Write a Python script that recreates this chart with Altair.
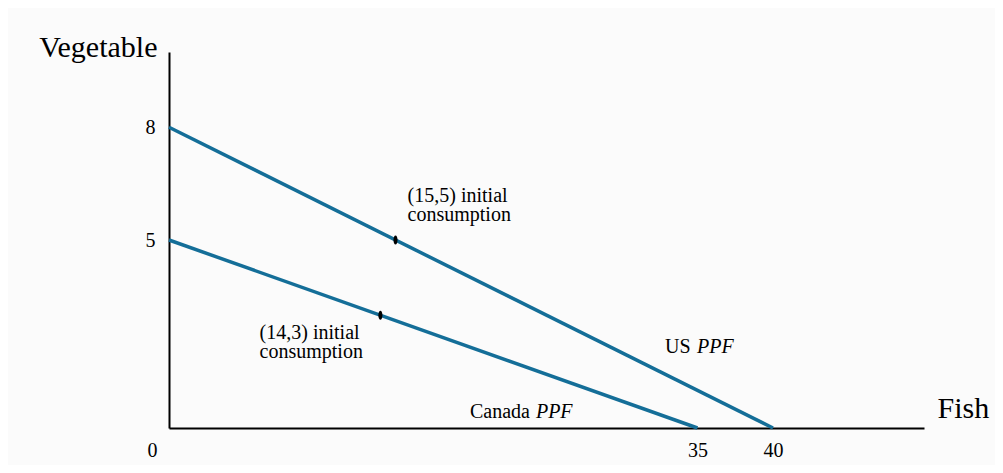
import altair as alt
import pandas as pd

# --- data ---
countries = ["US", "Canada"]
max_fish = [40, 35]
max_veg = [8, 5]
cons_fish = [15, 14]
cons_veg = [5, 3]

x_ticks = [0, 35, 40]
y_ticks = [5, 8]

ann_text = ["(15,5) initial\nconsumption", "(14,3) initial\nconsumption"]
ann_x = [15.8, 6.0]
ann_y = [6.0, 2.37]

ppf_name = ["US", "Canada"]
ppf_name_x = [32.85, 19.93]
ppf_y = [1.99, 0.27]
ppf_italic = ["PPF", "PPF"]
ppf_italic_x = [34.97, 24.3]

# --- tables ---
line_rows = []
for c, mf, mv in zip(countries, max_fish, max_veg):
    line_rows.append({"country": c, "fish": 0, "veg": mv, "order": 0})
    line_rows.append({"country": c, "fish": mf, "veg": 0, "order": 1})
lines_df = pd.DataFrame(line_rows)
pts_df = pd.DataFrame({"fish": cons_fish, "veg": cons_veg})
ann_df = pd.DataFrame({"x": ann_x, "y": ann_y, "text": ann_text})
name_df = pd.DataFrame({"x": ppf_name_x, "y": ppf_y, "text": ppf_name})
ital_df = pd.DataFrame({"x": ppf_italic_x, "y": ppf_y, "text": ppf_italic})

FONT = "Liberation Serif"
LINE_COLOR = "#146e98"

xscale = alt.Scale(domain=[0, 50], nice=False, zero=True)
yscale = alt.Scale(domain=[0, 10], nice=False, zero=True)

x_axis = alt.Axis(
    values=x_ticks, title="Fish", grid=False, ticks=False, tickSize=0,
    domainColor="black", domainWidth=2,
    labelFont=FONT, labelFontSize=20, labelColor="black", labelPadding=12,
    labelFlush=False,
    labelOffset={"condition": {"test": "datum.value == 0", "value": -17}, "value": 0},
    titleFont=FONT, titleFontSize=30, titleFontWeight="normal", titleColor="black",
    titleAngle=0, titleX=768, titleY=-11, titleAlign="left", titleBaseline="alphabetic",
)
y_axis = alt.Axis(
    values=y_ticks, title="Vegetable", grid=False, ticks=False, tickSize=0,
    domainColor="black", domainWidth=2,
    labelFont=FONT, labelFontSize=20, labelColor="black", labelPadding=14,
    titleFont=FONT, titleFontSize=30, titleFontWeight="normal", titleColor="black",
    titleAngle=0, titleX=-12, titleY=4, titleAlign="right", titleBaseline="alphabetic",
)

lines = alt.Chart(lines_df).mark_line(color=LINE_COLOR, strokeWidth=3.5).encode(
    x=alt.X("fish:Q", scale=xscale, axis=x_axis),
    y=alt.Y("veg:Q", scale=yscale, axis=y_axis),
    detail="country:N",
    order="order:Q",
)

points = alt.Chart(pts_df).mark_point(
    shape="M0,-1A0.45,1,0,1,1,0,1A0.45,1,0,1,1,0,-1Z",
    size=81, filled=True, color="black", opacity=1, strokeWidth=0,
).encode(x=alt.X("fish:Q", scale=xscale), y=alt.Y("veg:Q", scale=yscale))

ann = alt.Chart(ann_df).mark_text(
    font=FONT, fontSize=20, color="black", align="left", baseline="alphabetic",
    lineBreak="\n", lineHeight=19,
).encode(x=alt.X("x:Q", scale=xscale), y=alt.Y("y:Q", scale=yscale), text="text:N")

names = alt.Chart(name_df).mark_text(
    font=FONT, fontSize=20, color="black", align="left", baseline="alphabetic",
).encode(x=alt.X("x:Q", scale=xscale), y=alt.Y("y:Q", scale=yscale), text="text:N")

ital = alt.Chart(ital_df).mark_text(
    font=FONT, fontSize=20, fontStyle="italic", color="black", align="left",
    baseline="alphabetic",
).encode(x=alt.X("x:Q", scale=xscale), y=alt.Y("y:Q", scale=yscale), text="text:N")

chart = alt.layer(lines, points, ann, names, ital).properties(
    width=755, height=376,
    autosize=alt.AutoSizeParams(type="none"),
    padding={"left": 161, "top": 44, "right": 71, "bottom": 37},
    background="#fbfbfb",
).configure_view(stroke=None)

chart.save("out.html", embed_options={"renderer": "svg", "actions": False})
